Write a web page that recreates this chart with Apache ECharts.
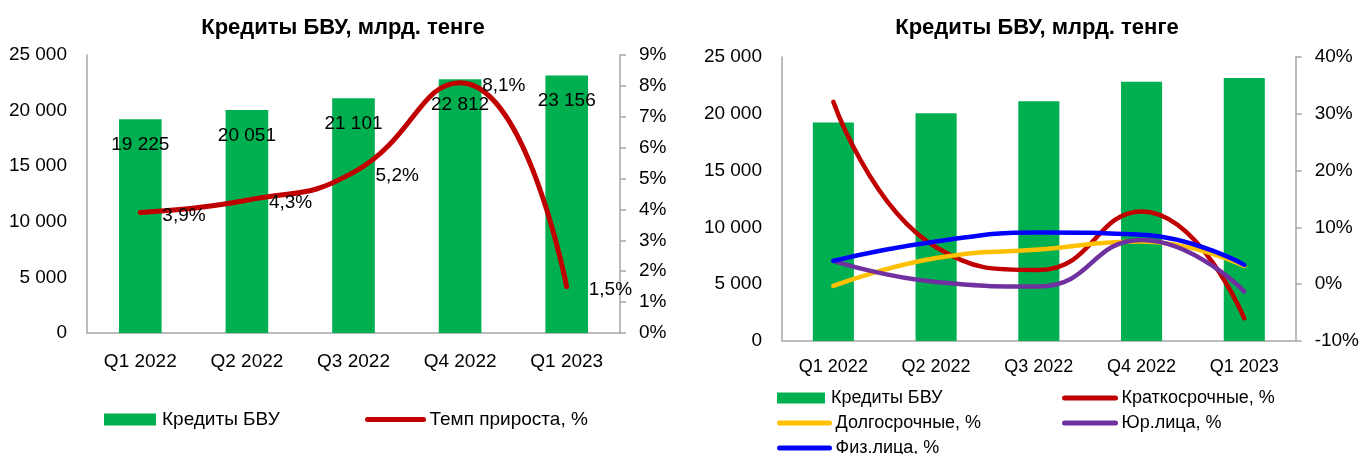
<!DOCTYPE html>
<html>
<head>
<meta charset="utf-8">
<script src="https://cdn.jsdelivr.net/npm/echarts@6/dist/echarts.min.js"></script>
<style>
html,body{margin:0;padding:0;background:#fff;}
#c{width:1362px;height:454px;}
</style>
</head>
<body>
<div id="c"></div>
<script>
const categories = ['Q1 2022', 'Q2 2022', 'Q3 2022', 'Q4 2022', 'Q1 2023'];
const credits = [19225, 20051, 21101, 22812, 23156];
const growth = [3.9, 4.3, 5.2, 8.1, 1.5];
const shortTerm = [32.1, 6.5, 2.5, 12.8, -6.0];
const longTerm = [-0.3, 4.6, 6.1, 7.5, 3.2];
const legalEntities = [4.1, 0.4, -0.4, 7.8, -1.3];
const individuals = [4.1, 7.5, 9.1, 8.7, 3.4];

const titleText = 'Кредиты БВУ, млрд. тенге';
const nBar = 'Кредиты БВУ';
const nGrowth = 'Темп прироста, %';
const nShort = 'Краткосрочные, %';
const nLong = 'Долгосрочные, %';
const nLegal = 'Юр.лица, %';
const nInd = 'Физ.лица, %';

const FONT = '"Liberation Sans", Arial, sans-serif';
const AX = '#a6a6a6';
const fmtThousands = v => String(v).replace(/\B(?=(\d{3})+(?!\d))/g, ' ');
const fmtPct = v => (Math.round(v * 10) / 10).toFixed(1).replace('.', ',') + '%';
const fmtPctInt = v => v + '%';

const chart = echarts.init(document.getElementById('c'), null, {renderer: 'canvas'});

function xAx(gi, margin, fs) {
  return {
    type: 'category', gridIndex: gi, data: categories,
    axisLine: {show: true, lineStyle: {color: AX, width: 1.5}},
    axisTick: {show: false},
    axisLabel: {color: '#000', fontFamily: FONT, fontSize: fs, margin: margin},
    splitLine: {show: false}
  };
}
function yLeft(gi) {
  return {
    type: 'value', gridIndex: gi, min: 0, max: 25000, interval: 5000,
    axisLine: {show: true, lineStyle: {color: AX, width: 1.5}},
    axisTick: {show: false},
    splitLine: {show: false},
    axisLabel: {color: '#000', fontFamily: FONT, fontSize: 19, margin: 20, formatter: fmtThousands}
  };
}
function yRight(gi, min, max, interval) {
  return {
    type: 'value', gridIndex: gi, position: 'right', min: min, max: max, interval: interval,
    axisLine: {show: true, lineStyle: {color: AX, width: 1.5}},
    axisTick: {show: true, length: 6, lineStyle: {color: AX, width: 1.5}},
    splitLine: {show: false},
    axisLabel: {color: '#000', fontFamily: FONT, fontSize: 19, margin: 19, formatter: fmtPctInt}
  };
}
function lineSeries(name, data, color, xi, yi, width) {
  return {
    name: name, type: 'line', xAxisIndex: xi, yAxisIndex: yi, data: data,
    smooth: 0.5, symbol: 'circle', symbolSize: 0.1, showSymbol: true, z: 5,
    lineStyle: {color: color, width: width, cap: 'round'},
    itemStyle: {color: color}
  };
}
function legendAt(name, left, top, iw, ih, fs, isLine, lw) {
  const l = {
    data: [name], left: left, top: top, itemWidth: iw, itemHeight: ih, itemGap: 0,
    padding: 0, selectedMode: false,
    textStyle: {color: '#000', fontFamily: FONT, fontSize: fs, padding: [0, 0, 0, 1]}
  };
  if (isLine) {
    l.itemStyle = {opacity: 0};
    l.lineStyle = {width: lw, cap: 'round'};
  } else {
    l.icon = 'rect';
  }
  return l;
}

const growthLine = lineSeries(nGrowth, growth, '#c00000', 0, 1, 5);
growthLine.label = {
  show: true, position: 'right', distance: 22, offset: [0, 3],
  color: '#000', fontFamily: FONT, fontSize: 19, formatter: p => fmtPct(p.value)
};

const option = {
  animation: false,
  backgroundColor: '#fff',
  title: [
    {text: titleText, left: 338, top: 12, textAlign: 'center',
     textStyle: {fontFamily: FONT, fontWeight: 'bold', fontSize: 22, color: '#000'}},
    {text: titleText, left: 1032, top: 12, textAlign: 'center',
     textStyle: {fontFamily: FONT, fontWeight: 'bold', fontSize: 22, color: '#000'}}
  ],
  grid: [
    {left: 87, top: 55, width: 533, height: 278},
    {left: 782, top: 57, width: 518, height: 284}
  ],
  xAxis: [xAx(0, 19, 19), xAx(1, 17, 18)],
  yAxis: [yLeft(0), yRight(0, 0, 9, 1), yLeft(1), yRight(1, -10, 40, 10)],
  legend: [
    legendAt(nBar, 104, 410, 52, 12, 19, false),
    legendAt(nGrowth, 365, 410, 56, 12, 19, true, 5),
    legendAt(nBar, 777, 389, 48, 11, 18, false),
    legendAt(nShort, 1062, 389, 51, 12, 18, true, 5),
    legendAt(nLong, 777, 414, 50, 12, 18, true, 5),
    legendAt(nLegal, 1062, 414, 51, 12, 18, true, 5),
    legendAt(nInd, 777, 439, 50, 12, 18, true, 5)
  ],
  series: [
    {
      name: nBar, type: 'bar', xAxisIndex: 0, yAxisIndex: 0, data: credits, barWidth: '40%',
      itemStyle: {color: '#00b050'},
      label: {show: true, position: 'insideTop', distance: 16, color: '#000',
              fontFamily: FONT, fontSize: 19, formatter: p => fmtThousands(p.value)}
    },
    growthLine,
    {
      name: nBar, type: 'bar', xAxisIndex: 1, yAxisIndex: 2, data: credits, barWidth: '40%',
      itemStyle: {color: '#00b050'}
    },
    lineSeries(nShort, shortTerm, '#c00000', 1, 3, 4.5),
    lineSeries(nLong, longTerm, '#ffc000', 1, 3, 4.5),
    lineSeries(nLegal, legalEntities, '#7030a0', 1, 3, 4.5),
    lineSeries(nInd, individuals, '#0000ff', 1, 3, 4.5)
  ]
};
chart.setOption(option);
</script>
</body>
</html>
